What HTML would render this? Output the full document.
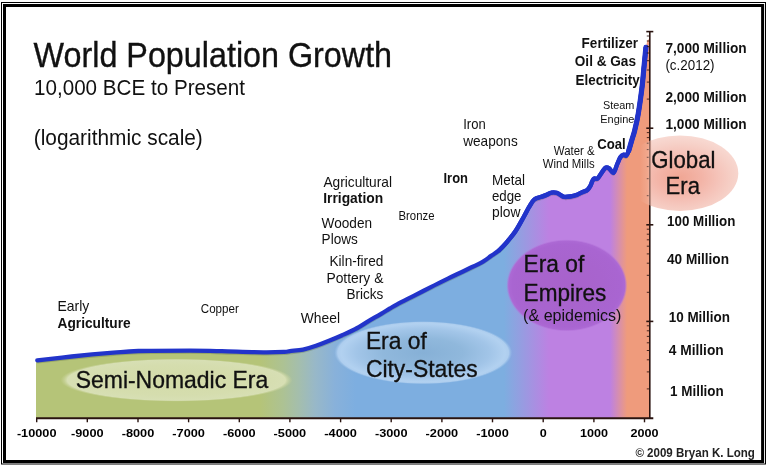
<!DOCTYPE html>
<html><head><meta charset="utf-8"><title>World Population Growth</title>
<style>
html,body{margin:0;padding:0;background:#fff;}
body{width:768px;height:468px;overflow:hidden;}
svg{display:block;will-change:transform;font-family:"Liberation Sans",sans-serif;}
</style></head><body>
<svg width="768" height="468" viewBox="0 0 768 468">
<defs>
<linearGradient id="eras" gradientUnits="userSpaceOnUse" x1="36.0" y1="0" x2="649.8" y2="0"><stop offset="0.0000" stop-color="#b5c478"/><stop offset="0.3649" stop-color="#b5c478"/><stop offset="0.4024" stop-color="#adc293"/><stop offset="0.4285" stop-color="#a4bead"/><stop offset="0.4545" stop-color="#98b8c8"/><stop offset="0.4871" stop-color="#88b1da"/><stop offset="0.5213" stop-color="#7daee0"/><stop offset="0.7625" stop-color="#7daee0"/><stop offset="0.8358" stop-color="#bd81e2"/><stop offset="0.9352" stop-color="#bd81e2"/><stop offset="0.9629" stop-color="#ef9b7c"/><stop offset="1.0000" stop-color="#ef9b7c"/></linearGradient>
<radialGradient id="gNomad"><stop offset="0" stop-color="#d3dba8"/><stop offset="0.7" stop-color="#d5ddae"/><stop offset="0.94" stop-color="#d7dfb4"/><stop offset="1" stop-color="#c8d298" stop-opacity="0"/></radialGradient>
<radialGradient id="gCity"><stop offset="0" stop-color="#86b0d6"/><stop offset="0.45" stop-color="#90b8dc"/><stop offset="0.75" stop-color="#a2c5e8"/><stop offset="0.92" stop-color="#b2d1f0"/><stop offset="0.96" stop-color="#b0cfef" stop-opacity="0.95"/><stop offset="1" stop-color="#9cc2e9" stop-opacity="0"/></radialGradient>
<radialGradient id="gEmp"><stop offset="0" stop-color="#a862cb"/><stop offset="0.6" stop-color="#a864ce"/><stop offset="0.9" stop-color="#a965d1"/><stop offset="0.96" stop-color="#ac69d4"/><stop offset="1" stop-color="#b675dc" stop-opacity="0"/></radialGradient>
<radialGradient id="gGlob" cx="0.5" cy="0.56" r="0.56"><stop offset="0" stop-color="#f0a694"/><stop offset="0.35" stop-color="#f3b5a8"/><stop offset="0.6" stop-color="#f5c4ba"/><stop offset="0.8" stop-color="#f6d0c7"/><stop offset="1" stop-color="#f8dad3"/></radialGradient><filter id="soft" x="-5%" y="-5%" width="110%" height="110%"><feGaussianBlur stdDeviation="0.7"/></filter>
<linearGradient id="gOv" gradientUnits="userSpaceOnUse" x1="640" y1="0" x2="651.4" y2="0"><stop offset="0" stop-color="#f8cfc2" stop-opacity="0"/><stop offset="0.7" stop-color="#f8cfc2" stop-opacity="0.25"/><stop offset="0.72" stop-color="#f6c0b0" stop-opacity="0.5"/><stop offset="1" stop-color="#f6c0b0" stop-opacity="0.5"/></linearGradient>
</defs>
<rect width="768" height="468" fill="#fff"/>
<rect x="1.5" y="2.5" width="764" height="461.5" fill="none" stroke="#000" stroke-width="1"/>
<rect x="4.5" y="5.5" width="758.1" height="456" fill="none" stroke="#000" stroke-width="3"/>
<ellipse cx="680" cy="173.2" rx="58.3" ry="37.8" fill="url(#gGlob)" filter="url(#soft)"/>
<path d="M37.3,360.3C43.0,359.7 59.0,357.8 71.7,356.5C84.4,355.2 102.2,353.6 113.3,352.7C124.4,351.8 125.5,351.4 138.3,351.0C151.1,350.6 176.1,350.6 190.0,350.6C203.9,350.6 209.5,351.0 221.7,351.2C233.9,351.5 252.9,352.2 263.3,352.3C273.7,352.4 279.8,352.1 284.2,351.9C288.6,351.7 286.9,351.5 290.0,351.1C293.1,350.7 298.7,350.5 303.0,349.6C307.3,348.7 311.7,347.3 316.0,345.8C320.3,344.3 324.6,342.6 329.0,340.8C333.4,339.0 337.8,337.1 342.1,335.2C346.5,333.3 350.8,331.5 355.1,329.2C359.4,326.9 363.8,324.0 368.1,321.4C372.4,318.8 377.5,316.0 381.1,313.8C384.8,311.6 387.3,310.0 390.0,308.4C392.7,306.8 393.1,306.4 397.1,304.3C401.1,302.2 408.5,298.5 414.2,295.6C419.9,292.7 425.6,289.8 431.3,286.9C437.0,284.0 442.7,281.2 448.4,278.4C454.1,275.6 459.8,273.0 465.5,270.2C471.2,267.4 478.3,264.2 482.6,261.8C486.9,259.4 488.3,257.8 491.1,255.9C493.9,254.0 496.5,252.5 499.2,250.2C501.9,247.8 504.4,245.0 507.1,241.8C509.8,238.6 512.8,235.3 515.6,231.0C518.5,226.7 521.9,220.1 524.2,216.0C526.5,211.9 527.6,209.4 529.3,206.6C531.0,203.8 532.4,201.0 534.4,199.4C536.4,197.8 539.3,197.6 541.3,196.8C543.3,196.1 544.7,195.6 546.4,194.9C548.1,194.2 549.8,192.9 551.5,192.6C553.2,192.2 555.0,192.3 556.7,192.8C558.4,193.3 560.5,195.1 561.8,195.8C563.1,196.5 563.2,196.8 564.6,196.9C566.0,197.0 568.0,196.8 570.0,196.5C572.0,196.2 574.9,195.5 576.9,194.8C578.9,194.1 580.4,193.0 582.1,192.2C583.8,191.4 585.9,191.1 587.3,190.0C588.7,188.9 589.6,187.2 590.4,185.8C591.2,184.4 591.6,182.6 592.2,181.4C592.8,180.2 593.1,179.1 594.0,178.6C594.9,178.1 596.3,179.6 597.7,178.4C599.1,177.2 601.0,173.4 602.4,171.6C603.8,169.8 604.7,168.1 605.8,167.6C606.9,167.1 607.9,167.6 609.2,168.4C610.5,169.2 612.2,173.3 613.5,172.7C614.8,172.1 615.8,167.6 616.9,165.0C618.0,162.4 619.2,159.0 620.3,157.3C621.4,155.6 622.7,155.0 623.7,154.7C624.7,154.4 625.4,156.3 626.3,155.6C627.1,154.9 627.8,153.3 628.8,150.5C629.8,147.7 631.3,141.8 632.3,138.5C633.3,135.2 633.6,134.9 634.6,130.8C635.6,126.7 637.0,121.2 638.2,114.1C639.4,107.0 640.9,96.3 641.9,88.3C642.9,80.3 643.4,72.8 644.1,66.0C644.8,59.2 645.6,50.5 645.9,47.4L647.3,40.4L649.8,38.4L649.8,418.0L36.0,418.0L36.0,360.3Z" fill="url(#eras)"/>
<ellipse cx="176.4" cy="380.1" rx="116" ry="21.6" fill="url(#gNomad)"/>
<ellipse cx="423.2" cy="352.7" rx="89" ry="31.6" fill="url(#gCity)"/>
<ellipse cx="566.8" cy="285.4" rx="60.5" ry="46.2" fill="url(#gEmp)"/>
<path d="M37.3,360.3C43.0,359.7 59.0,357.8 71.7,356.5C84.4,355.2 102.2,353.6 113.3,352.7C124.4,351.8 125.5,351.4 138.3,351.0C151.1,350.6 176.1,350.6 190.0,350.6C203.9,350.6 209.5,351.0 221.7,351.2C233.9,351.5 252.9,352.2 263.3,352.3C273.7,352.4 279.8,352.1 284.2,351.9C288.6,351.7 286.9,351.5 290.0,351.1C293.1,350.7 298.7,350.5 303.0,349.6C307.3,348.7 311.7,347.3 316.0,345.8C320.3,344.3 324.6,342.6 329.0,340.8C333.4,339.0 337.8,337.1 342.1,335.2C346.5,333.3 350.8,331.5 355.1,329.2C359.4,326.9 363.8,324.0 368.1,321.4C372.4,318.8 377.5,316.0 381.1,313.8C384.8,311.6 387.3,310.0 390.0,308.4C392.7,306.8 393.1,306.4 397.1,304.3C401.1,302.2 408.5,298.5 414.2,295.6C419.9,292.7 425.6,289.8 431.3,286.9C437.0,284.0 442.7,281.2 448.4,278.4C454.1,275.6 459.8,273.0 465.5,270.2C471.2,267.4 478.3,264.2 482.6,261.8C486.9,259.4 488.3,257.8 491.1,255.9C493.9,254.0 496.5,252.5 499.2,250.2C501.9,247.8 504.4,245.0 507.1,241.8C509.8,238.6 512.8,235.3 515.6,231.0C518.5,226.7 521.9,220.1 524.2,216.0C526.5,211.9 527.6,209.4 529.3,206.6C531.0,203.8 532.4,201.0 534.4,199.4C536.4,197.8 539.3,197.6 541.3,196.8C543.3,196.1 544.7,195.6 546.4,194.9C548.1,194.2 549.8,192.9 551.5,192.6C553.2,192.2 555.0,192.3 556.7,192.8C558.4,193.3 560.5,195.1 561.8,195.8C563.1,196.5 563.2,196.8 564.6,196.9C566.0,197.0 568.0,196.8 570.0,196.5C572.0,196.2 574.9,195.5 576.9,194.8C578.9,194.1 580.4,193.0 582.1,192.2C583.8,191.4 585.9,191.1 587.3,190.0C588.7,188.9 589.6,187.2 590.4,185.8C591.2,184.4 591.6,182.6 592.2,181.4C592.8,180.2 593.1,179.1 594.0,178.6C594.9,178.1 596.3,179.6 597.7,178.4C599.1,177.2 601.0,173.4 602.4,171.6C603.8,169.8 604.7,168.1 605.8,167.6C606.9,167.1 607.9,167.6 609.2,168.4C610.5,169.2 612.2,173.3 613.5,172.7C614.8,172.1 615.8,167.6 616.9,165.0C618.0,162.4 619.2,159.0 620.3,157.3C621.4,155.6 622.7,155.0 623.7,154.7C624.7,154.4 625.4,156.3 626.3,155.6C627.1,154.9 627.8,153.3 628.8,150.5C629.8,147.7 631.3,141.8 632.3,138.5C633.3,135.2 633.6,134.9 634.6,130.8C635.6,126.7 637.0,121.2 638.2,114.1C639.4,107.0 640.9,96.3 641.9,88.3C642.9,80.3 643.4,72.8 644.1,66.0C644.8,59.2 645.6,50.5 645.9,47.4" transform="translate(0,2.2)" fill="none" stroke="#3a4a30" stroke-opacity="0.25" stroke-width="2"/>
<path d="M37.3,360.3C43.0,359.7 59.0,357.8 71.7,356.5C84.4,355.2 102.2,353.6 113.3,352.7C124.4,351.8 125.5,351.4 138.3,351.0C151.1,350.6 176.1,350.6 190.0,350.6C203.9,350.6 209.5,351.0 221.7,351.2C233.9,351.5 252.9,352.2 263.3,352.3C273.7,352.4 279.8,352.1 284.2,351.9C288.6,351.7 286.9,351.5 290.0,351.1C293.1,350.7 298.7,350.5 303.0,349.6C307.3,348.7 311.7,347.3 316.0,345.8C320.3,344.3 324.6,342.6 329.0,340.8C333.4,339.0 337.8,337.1 342.1,335.2C346.5,333.3 350.8,331.5 355.1,329.2C359.4,326.9 363.8,324.0 368.1,321.4C372.4,318.8 377.5,316.0 381.1,313.8C384.8,311.6 387.3,310.0 390.0,308.4C392.7,306.8 393.1,306.4 397.1,304.3C401.1,302.2 408.5,298.5 414.2,295.6C419.9,292.7 425.6,289.8 431.3,286.9C437.0,284.0 442.7,281.2 448.4,278.4C454.1,275.6 459.8,273.0 465.5,270.2C471.2,267.4 478.3,264.2 482.6,261.8C486.9,259.4 488.3,257.8 491.1,255.9C493.9,254.0 496.5,252.5 499.2,250.2C501.9,247.8 504.4,245.0 507.1,241.8C509.8,238.6 512.8,235.3 515.6,231.0C518.5,226.7 521.9,220.1 524.2,216.0C526.5,211.9 527.6,209.4 529.3,206.6C531.0,203.8 532.4,201.0 534.4,199.4C536.4,197.8 539.3,197.6 541.3,196.8C543.3,196.1 544.7,195.6 546.4,194.9C548.1,194.2 549.8,192.9 551.5,192.6C553.2,192.2 555.0,192.3 556.7,192.8C558.4,193.3 560.5,195.1 561.8,195.8C563.1,196.5 563.2,196.8 564.6,196.9C566.0,197.0 568.0,196.8 570.0,196.5C572.0,196.2 574.9,195.5 576.9,194.8C578.9,194.1 580.4,193.0 582.1,192.2C583.8,191.4 585.9,191.1 587.3,190.0C588.7,188.9 589.6,187.2 590.4,185.8C591.2,184.4 591.6,182.6 592.2,181.4C592.8,180.2 593.1,179.1 594.0,178.6C594.9,178.1 596.3,179.6 597.7,178.4C599.1,177.2 601.0,173.4 602.4,171.6C603.8,169.8 604.7,168.1 605.8,167.6C606.9,167.1 607.9,167.6 609.2,168.4C610.5,169.2 612.2,173.3 613.5,172.7C614.8,172.1 615.8,167.6 616.9,165.0C618.0,162.4 619.2,159.0 620.3,157.3C621.4,155.6 622.7,155.0 623.7,154.7C624.7,154.4 625.4,156.3 626.3,155.6C627.1,154.9 627.8,153.3 628.8,150.5C629.8,147.7 631.3,141.8 632.3,138.5C633.3,135.2 633.6,134.9 634.6,130.8C635.6,126.7 637.0,121.2 638.2,114.1C639.4,107.0 640.9,96.3 641.9,88.3C642.9,80.3 643.4,72.8 644.1,66.0C644.8,59.2 645.6,50.5 645.9,47.4" fill="none" stroke="#2234ca" stroke-width="4.3" stroke-linecap="round" stroke-linejoin="round"/>
<path d="M499.2,250.2C500.5,248.8 504.4,245.0 507.1,241.8C509.8,238.6 512.8,235.3 515.6,231.0C518.5,226.7 521.9,220.1 524.2,216.0C526.5,211.9 527.6,209.4 529.3,206.6C531.0,203.8 532.4,201.0 534.4,199.4C536.4,197.8 539.3,197.6 541.3,196.8C543.3,196.1 544.7,195.6 546.4,194.9C548.1,194.2 549.8,192.9 551.5,192.6C553.2,192.2 555.0,192.3 556.7,192.8C558.4,193.3 560.5,195.1 561.8,195.8C563.1,196.5 563.2,196.8 564.6,196.9C566.0,197.0 568.0,196.8 570.0,196.5C572.0,196.2 574.9,195.5 576.9,194.8C578.9,194.1 580.4,193.0 582.1,192.2C583.8,191.4 585.9,191.1 587.3,190.0C588.7,188.9 589.6,187.2 590.4,185.8C591.2,184.4 591.6,182.6 592.2,181.4C592.8,180.2 593.1,179.1 594.0,178.6C594.9,178.1 596.3,179.6 597.7,178.4C599.1,177.2 601.0,173.4 602.4,171.6C603.8,169.8 604.7,168.1 605.8,167.6C606.9,167.1 607.9,167.6 609.2,168.4C610.5,169.2 612.2,173.3 613.5,172.7C614.8,172.1 615.8,167.6 616.9,165.0C618.0,162.4 619.2,159.0 620.3,157.3C621.4,155.6 622.7,155.0 623.7,154.7C624.7,154.4 625.4,156.3 626.3,155.6C627.1,154.9 627.8,153.3 628.8,150.5C629.8,147.7 631.3,141.8 632.3,138.5C633.3,135.2 633.6,134.9 634.6,130.8C635.6,126.7 637.0,121.2 638.2,114.1C639.4,107.0 640.9,96.3 641.9,88.3C642.9,80.3 643.4,72.8 644.1,66.0C644.8,59.2 645.6,50.5 645.9,47.4" fill="none" stroke="#2234ca" stroke-width="4.4" stroke-linecap="round" stroke-linejoin="round"/>
<path d="M628.8,150.5C629.4,148.5 631.3,141.8 632.3,138.5C633.3,135.2 633.6,134.9 634.6,130.8C635.6,126.7 637.0,121.2 638.2,114.1C639.4,107.0 640.9,96.3 641.9,88.3C642.9,80.3 643.4,72.8 644.1,66.0C644.8,59.2 645.6,50.5 645.9,47.4" fill="none" stroke="#2234ca" stroke-width="5.2" stroke-linecap="round" stroke-linejoin="round"/>
<g stroke="#2a1410" stroke-width="1">
<line x1="649.8" x2="649.8" y1="31.6" y2="418.0" stroke-width="1.6"/>
<line x1="36.0" x2="653.3" y1="418.3" y2="418.3" stroke-width="1.9"/>
<line x1="646.8" x2="649.8" y1="99.1" y2="99.1" stroke-opacity="0.85"/><line x1="646.8" x2="649.8" y1="82.1" y2="82.1" stroke-opacity="0.85"/><line x1="646.8" x2="649.8" y1="70.0" y2="70.0" stroke-opacity="0.85"/><line x1="646.8" x2="649.8" y1="60.7" y2="60.7" stroke-opacity="0.85"/><line x1="646.8" x2="649.8" y1="53.0" y2="53.0" stroke-opacity="0.85"/><line x1="646.8" x2="649.8" y1="46.6" y2="46.6" stroke-opacity="0.85"/><line x1="646.8" x2="649.8" y1="41.0" y2="41.0" stroke-opacity="0.85"/><line x1="646.8" x2="649.8" y1="36.0" y2="36.0" stroke-opacity="0.85"/><line x1="646.8" x2="649.8" y1="195.7" y2="195.7" stroke-opacity="0.85"/><line x1="646.8" x2="649.8" y1="178.7" y2="178.7" stroke-opacity="0.85"/><line x1="646.8" x2="649.8" y1="166.6" y2="166.6" stroke-opacity="0.85"/><line x1="646.8" x2="649.8" y1="157.3" y2="157.3" stroke-opacity="0.85"/><line x1="646.8" x2="649.8" y1="149.6" y2="149.6" stroke-opacity="0.85"/><line x1="646.8" x2="649.8" y1="143.2" y2="143.2" stroke-opacity="0.85"/><line x1="646.8" x2="649.8" y1="137.6" y2="137.6" stroke-opacity="0.85"/><line x1="646.8" x2="649.8" y1="132.6" y2="132.6" stroke-opacity="0.85"/><line x1="646.8" x2="649.8" y1="292.3" y2="292.3" stroke-opacity="0.85"/><line x1="646.8" x2="649.8" y1="275.3" y2="275.3" stroke-opacity="0.85"/><line x1="646.8" x2="649.8" y1="263.2" y2="263.2" stroke-opacity="0.85"/><line x1="646.8" x2="649.8" y1="253.9" y2="253.9" stroke-opacity="0.85"/><line x1="646.8" x2="649.8" y1="246.2" y2="246.2" stroke-opacity="0.85"/><line x1="646.8" x2="649.8" y1="239.8" y2="239.8" stroke-opacity="0.85"/><line x1="646.8" x2="649.8" y1="234.2" y2="234.2" stroke-opacity="0.85"/><line x1="646.8" x2="649.8" y1="229.2" y2="229.2" stroke-opacity="0.85"/><line x1="646.8" x2="649.8" y1="388.9" y2="388.9" stroke-opacity="0.85"/><line x1="646.8" x2="649.8" y1="371.9" y2="371.9" stroke-opacity="0.85"/><line x1="646.8" x2="649.8" y1="359.8" y2="359.8" stroke-opacity="0.85"/><line x1="646.8" x2="649.8" y1="350.5" y2="350.5" stroke-opacity="0.85"/><line x1="646.8" x2="649.8" y1="342.8" y2="342.8" stroke-opacity="0.85"/><line x1="646.8" x2="649.8" y1="336.4" y2="336.4" stroke-opacity="0.85"/><line x1="646.8" x2="649.8" y1="330.8" y2="330.8" stroke-opacity="0.85"/><line x1="646.8" x2="649.8" y1="325.8" y2="325.8" stroke-opacity="0.85"/><line x1="646.3" x2="653.3" y1="31.6" y2="31.6" stroke-width="1.6"/><line x1="646.3" x2="653.3" y1="128.2" y2="128.2" stroke-width="1.6"/><line x1="646.3" x2="653.3" y1="224.8" y2="224.8" stroke-width="1.6"/><line x1="646.3" x2="653.3" y1="321.4" y2="321.4" stroke-width="1.6"/>
<line x1="36.7" x2="36.7" y1="418.0" y2="422.3" stroke-width="1.4"/><line x1="87.3" x2="87.3" y1="418.0" y2="422.3" stroke-width="1.4"/><line x1="138.0" x2="138.0" y1="418.0" y2="422.3" stroke-width="1.4"/><line x1="188.6" x2="188.6" y1="418.0" y2="422.3" stroke-width="1.4"/><line x1="239.3" x2="239.3" y1="418.0" y2="422.3" stroke-width="1.4"/><line x1="289.9" x2="289.9" y1="418.0" y2="422.3" stroke-width="1.4"/><line x1="340.6" x2="340.6" y1="418.0" y2="422.3" stroke-width="1.4"/><line x1="391.2" x2="391.2" y1="418.0" y2="422.3" stroke-width="1.4"/><line x1="441.9" x2="441.9" y1="418.0" y2="422.3" stroke-width="1.4"/><line x1="492.5" x2="492.5" y1="418.0" y2="422.3" stroke-width="1.4"/><line x1="543.2" x2="543.2" y1="418.0" y2="422.3" stroke-width="1.4"/><line x1="593.9" x2="593.9" y1="418.0" y2="422.3" stroke-width="1.4"/><line x1="644.5" x2="644.5" y1="418.0" y2="422.3" stroke-width="1.4"/>
</g>
<clipPath id="cl"><rect x="640" y="100" width="11.4" height="150"/></clipPath>
<ellipse cx="680" cy="173" rx="58" ry="38" fill="url(#gOv)" clip-path="url(#cl)"/>
<g>
<text x="33.6" y="67" font-size="34.4" textLength="358.5" lengthAdjust="spacingAndGlyphs" fill="#111" stroke="#111" stroke-width="0.35">World Population Growth</text>
<text x="34" y="95" font-size="22" textLength="211" lengthAdjust="spacingAndGlyphs" fill="#111">10,000 BCE to Present</text>
<text x="33.8" y="144.5" font-size="22.3" textLength="169" lengthAdjust="spacingAndGlyphs" fill="#111">(logarithmic scale)</text>
<text x="57.5" y="311.2" font-size="14.3" textLength="31.8" lengthAdjust="spacingAndGlyphs" fill="#111">Early</text>
<text x="57.5" y="328" font-size="14.3" font-weight="bold" textLength="73.2" lengthAdjust="spacingAndGlyphs" fill="#111">Agriculture</text>
<text x="200.8" y="313.2" font-size="12.0" textLength="38" lengthAdjust="spacingAndGlyphs" fill="#111">Copper</text>
<text x="300.8" y="322.9" font-size="14.3" textLength="39.2" lengthAdjust="spacingAndGlyphs" fill="#111">Wheel</text>
<text x="323.4" y="186.8" font-size="14.3" textLength="68.6" lengthAdjust="spacingAndGlyphs" fill="#111">Agricultural</text>
<text x="323.2" y="203.2" font-size="14.3" font-weight="bold" textLength="60" lengthAdjust="spacingAndGlyphs" fill="#111">Irrigation</text>
<text x="321.6" y="228.2" font-size="14.3" textLength="50.5" lengthAdjust="spacingAndGlyphs" fill="#111">Wooden</text>
<text x="321.6" y="244" font-size="14.3" textLength="36.2" lengthAdjust="spacingAndGlyphs" fill="#111">Plows</text>
<text x="329.5" y="265.8" font-size="14.3" textLength="53.8" lengthAdjust="spacingAndGlyphs" fill="#111">Kiln-fired</text>
<text x="326.4" y="282.8" font-size="14.3" textLength="57" lengthAdjust="spacingAndGlyphs" fill="#111">Pottery &amp;</text>
<text x="346.5" y="299.2" font-size="14.3" textLength="36.8" lengthAdjust="spacingAndGlyphs" fill="#111">Bricks</text>
<text x="398.5" y="220" font-size="12.0" textLength="36" lengthAdjust="spacingAndGlyphs" fill="#111">Bronze</text>
<text x="443.5" y="182.8" font-size="14.3" font-weight="bold" textLength="24.5" lengthAdjust="spacingAndGlyphs" fill="#111">Iron</text>
<text x="463.2" y="129.2" font-size="14.3" textLength="22.5" lengthAdjust="spacingAndGlyphs" fill="#111">Iron</text>
<text x="463.2" y="145.5" font-size="14.3" textLength="54.5" lengthAdjust="spacingAndGlyphs" fill="#111">weapons</text>
<text x="492" y="184.5" font-size="14.3" textLength="33" lengthAdjust="spacingAndGlyphs" fill="#111">Metal</text>
<text x="492" y="200.6" font-size="14.3" textLength="29.5" lengthAdjust="spacingAndGlyphs" fill="#111">edge</text>
<text x="492" y="216.5" font-size="14.3" textLength="28.5" lengthAdjust="spacingAndGlyphs" fill="#111">plow</text>
<text x="553.8" y="155" font-size="12.0" textLength="40.8" lengthAdjust="spacingAndGlyphs" fill="#111">Water &amp;</text>
<text x="542.8" y="168" font-size="12.0" textLength="51.8" lengthAdjust="spacingAndGlyphs" fill="#111">Wind Mills</text>
<text x="597.2" y="148.7" font-size="14.3" font-weight="bold" textLength="28.5" lengthAdjust="spacingAndGlyphs" fill="#111">Coal</text>
<text x="603" y="109.2" font-size="11.8" textLength="31.4" lengthAdjust="spacingAndGlyphs" fill="#111">Steam</text>
<text x="600.3" y="123" font-size="11.8" textLength="34.1" lengthAdjust="spacingAndGlyphs" fill="#111">Engine</text>
<text x="581.6" y="47.7" font-size="14.3" font-weight="bold" textLength="56.4" lengthAdjust="spacingAndGlyphs" fill="#111">Fertilizer</text>
<text x="574.8" y="66" font-size="14.3" font-weight="bold" textLength="61.2" lengthAdjust="spacingAndGlyphs" fill="#111">Oil &amp; Gas</text>
<text x="575.6" y="84.9" font-size="14.3" font-weight="bold" textLength="64.1" lengthAdjust="spacingAndGlyphs" fill="#111">Electricity</text>
<text x="665.4" y="53.3" font-size="14.3" font-weight="bold" textLength="81.3" lengthAdjust="spacingAndGlyphs" fill="#111">7,000 Million</text>
<text x="665.4" y="69.5" font-size="14.3" textLength="49.2" lengthAdjust="spacingAndGlyphs" fill="#111">(c.2012)</text>
<text x="665.4" y="101.5" font-size="14.3" font-weight="bold" textLength="81.3" lengthAdjust="spacingAndGlyphs" fill="#111">2,000 Million</text>
<text x="665.4" y="128.5" font-size="14.3" font-weight="bold" textLength="81.3" lengthAdjust="spacingAndGlyphs" fill="#111">1,000 Million</text>
<text x="667" y="226.4" font-size="14.3" font-weight="bold" textLength="68.4" lengthAdjust="spacingAndGlyphs" fill="#111">100 Million</text>
<text x="667" y="264.1" font-size="14.3" font-weight="bold" textLength="62" lengthAdjust="spacingAndGlyphs" fill="#111">40 Million</text>
<text x="668.7" y="322.3" font-size="14.3" font-weight="bold" textLength="61.3" lengthAdjust="spacingAndGlyphs" fill="#111">10 Million</text>
<text x="668.7" y="354.9" font-size="14.3" font-weight="bold" textLength="55.1" lengthAdjust="spacingAndGlyphs" fill="#111">4 Million</text>
<text x="670" y="395.9" font-size="14.3" font-weight="bold" textLength="53.8" lengthAdjust="spacingAndGlyphs" fill="#111">1 Million</text>
<text x="651.3" y="168" font-size="24.5" textLength="64.1" lengthAdjust="spacingAndGlyphs" fill="#111" stroke="#111" stroke-width="0.35">Global</text>
<text x="665.6" y="194.4" font-size="24.5" textLength="34.4" lengthAdjust="spacingAndGlyphs" fill="#111" stroke="#111" stroke-width="0.35">Era</text>
<text x="75.7" y="387.5" font-size="24.5" textLength="192.6" lengthAdjust="spacingAndGlyphs" fill="#111" stroke="#111" stroke-width="0.35">Semi-Nomadic Era</text>
<text x="365.9" y="348.5" font-size="24.5" textLength="60.9" lengthAdjust="spacingAndGlyphs" fill="#111" stroke="#111" stroke-width="0.35">Era of</text>
<text x="365.9" y="376.7" font-size="24.5" textLength="111.9" lengthAdjust="spacingAndGlyphs" fill="#111" stroke="#111" stroke-width="0.35">City-States</text>
<text x="523.6" y="271.6" font-size="24.5" textLength="60.6" lengthAdjust="spacingAndGlyphs" fill="#111" stroke="#111" stroke-width="0.35">Era of</text>
<text x="523.6" y="300.5" font-size="24.5" textLength="82.7" lengthAdjust="spacingAndGlyphs" fill="#111" stroke="#111" stroke-width="0.35">Empires</text>
<text x="523.1" y="320.9" font-size="16.8" textLength="98.3" lengthAdjust="spacingAndGlyphs" fill="#111">(&amp; epidemics)</text>
<text x="635.4" y="457" font-size="11.9" font-weight="bold" textLength="119.5" lengthAdjust="spacingAndGlyphs" fill="#222">© 2009 Bryan K. Long</text>
<text x="16.9" y="436.6" font-size="10.2" font-weight="bold" textLength="39.6" lengthAdjust="spacingAndGlyphs" fill="#000">-10000</text>
<text x="71.0" y="436.6" font-size="10.2" font-weight="bold" textLength="32.6" lengthAdjust="spacingAndGlyphs" fill="#000">-9000</text>
<text x="121.7" y="436.6" font-size="10.2" font-weight="bold" textLength="32.6" lengthAdjust="spacingAndGlyphs" fill="#000">-8000</text>
<text x="172.3" y="436.6" font-size="10.2" font-weight="bold" textLength="32.6" lengthAdjust="spacingAndGlyphs" fill="#000">-7000</text>
<text x="223.0" y="436.6" font-size="10.2" font-weight="bold" textLength="32.6" lengthAdjust="spacingAndGlyphs" fill="#000">-6000</text>
<text x="273.6" y="436.6" font-size="10.2" font-weight="bold" textLength="32.6" lengthAdjust="spacingAndGlyphs" fill="#000">-5000</text>
<text x="324.3" y="436.6" font-size="10.2" font-weight="bold" textLength="32.6" lengthAdjust="spacingAndGlyphs" fill="#000">-4000</text>
<text x="374.9" y="436.6" font-size="10.2" font-weight="bold" textLength="32.6" lengthAdjust="spacingAndGlyphs" fill="#000">-3000</text>
<text x="425.6" y="436.6" font-size="10.2" font-weight="bold" textLength="32.6" lengthAdjust="spacingAndGlyphs" fill="#000">-2000</text>
<text x="476.2" y="436.6" font-size="10.2" font-weight="bold" textLength="32.6" lengthAdjust="spacingAndGlyphs" fill="#000">-1000</text>
<text x="539.7" y="436.6" font-size="10.2" font-weight="bold" textLength="7.0" lengthAdjust="spacingAndGlyphs" fill="#000">0</text>
<text x="579.9" y="436.6" font-size="10.2" font-weight="bold" textLength="28.0" lengthAdjust="spacingAndGlyphs" fill="#000">1000</text>
<text x="630.5" y="436.6" font-size="10.2" font-weight="bold" textLength="28.0" lengthAdjust="spacingAndGlyphs" fill="#000">2000</text>
</g>
</svg>
</body></html>
